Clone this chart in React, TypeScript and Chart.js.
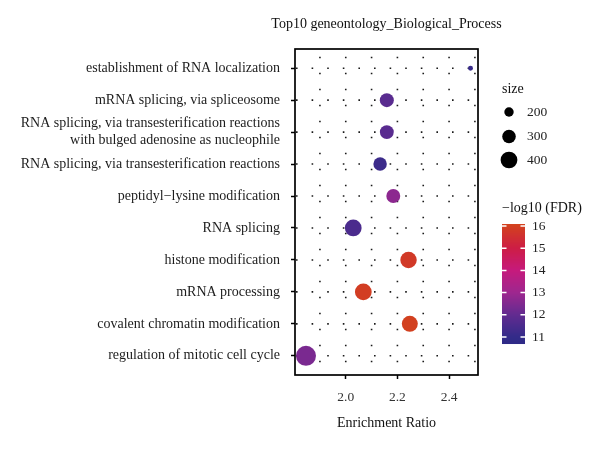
import React, { useEffect, useRef } from "react";
import { Chart, registerables } from "chart.js";

Chart.register(...registerables);

const categories = [
  "establishment of RNA localization",
  "mRNA splicing, via spliceosome",
  "RNA splicing, via transesterification reactions\nwith bulged adenosine as nucleophile",
  "RNA splicing, via transesterification reactions",
  "peptidyl\u2212lysine modification",
  "RNA splicing",
  "histone modification",
  "mRNA processing",
  "covalent chromatin modification",
  "regulation of mitotic cell cycle",
];
const enrichmentRatio = [2.483, 2.159, 2.159, 2.133, 2.184, 2.029, 2.243, 2.068, 2.248, 1.846];
const geneSize = [134, 312, 310, 296, 310, 400, 390, 400, 375, 525];
const negLog10FDR = [11.1, 11.8, 11.8, 11.2, 12.7, 11.5, 15.8, 15.9, 16.0, 12.4];
const xTicks = [2.0, 2.2, 2.4];
const xGrid = [1.9, 2.0, 2.1, 2.2, 2.3, 2.4, 2.5];
const sizeLegend = [200, 300, 400];
const fdrTicks = [11, 12, 13, 14, 15, 16];

const FONT = "'Liberation Serif', 'DejaVu Serif', serif";

const colorStops: [number, number[]][] = [
  [10.6, [0x2c, 0x2a, 0x86]],
  [11, [0x33, 0x2b, 0x89]],
  [12, [0x62, 0x2b, 0x90]],
  [13, [0x9e, 0x27, 0x8f]],
  [14, [0xc6, 0x1a, 0x7c]],
  [15, [0xcd, 0x1d, 0x45]],
  [16, [0xd2, 0x40, 0x1f]],
  [16.2, [0xd4, 0x46, 0x1d]],
];

function colorFor(v: number): string {
  let a = colorStops[0];
  let b = colorStops[colorStops.length - 1];
  if (v <= a[0]) b = a;
  for (let i = 0; i < colorStops.length - 1; i++) {
    if (v >= colorStops[i][0] && v <= colorStops[i + 1][0]) {
      a = colorStops[i];
      b = colorStops[i + 1];
      break;
    }
  }
  const t = b[0] === a[0] ? 0 : (v - a[0]) / (b[0] - a[0]);
  const c = a[1].map((ch, k) => Math.round(ch + (b[1][k] - ch) * t));
  return `rgb(${c[0]},${c[1]},${c[2]})`;
}

function radiusFor(s: number): number {
  return Math.sqrt(Math.max(1, 22 + (s - 200) * 0.24));
}

const decorPlugin = {
  id: "decor",
  beforeDatasetsDraw(chart: any) {
    const { ctx, chartArea: a, scales } = chart;
    const x = scales.x;
    const y = scales.y;
    ctx.save();
    ctx.beginPath();
    ctx.rect(a.left, a.top, a.right - a.left, a.bottom - a.top);
    ctx.clip();
    ctx.strokeStyle = "#1a1a1a";
    ctx.lineWidth = 1.6;
    ctx.setLineDash([1.6, 14.4]);
    xGrid.forEach((v) => {
      const px = x.getPixelForValue(v);
      ctx.lineDashOffset = -7.7;
      ctx.beginPath();
      ctx.moveTo(px, a.top);
      ctx.lineTo(px, a.bottom);
      ctx.stroke();
    });
    ctx.setLineDash([1.6, 14.0]);
    categories.forEach((_, i) => {
      const py = y.getPixelForValue(i);
      ctx.lineDashOffset = -1;
      ctx.beginPath();
      ctx.moveTo(a.left, py);
      ctx.lineTo(a.right, py);
      ctx.stroke();
    });
    ctx.restore();
  },
  afterDatasetsDraw(chart: any) {
    const { ctx, chartArea: a } = chart;
    ctx.save();
    ctx.strokeStyle = "#000";
    ctx.lineWidth = 1.7;
    ctx.strokeRect(a.left, a.top, a.right - a.left, a.bottom - a.top);
    ctx.restore();
  },
  afterDraw(chart: any) {
    const { ctx, chartArea: a } = chart;
    ctx.save();
    ctx.fillStyle = "#111";
    ctx.font = `14px ${FONT}`;
    ctx.textAlign = "center";
    ctx.textBaseline = "middle";
    ctx.fillText("Top10 geneontology_Biological_Process", (a.left + a.right) / 2, 24);
    ctx.fillText("Enrichment Ratio", (a.left + a.right) / 2, 423);

    // size legend
    ctx.textAlign = "left";
    ctx.fillStyle = "#111";
    ctx.fillText("size", 502, 89);
    ctx.font = `13.5px ${FONT}`;
    const sizeY = [112, 136.5, 160];
    sizeLegend.forEach((s, i) => {
      ctx.beginPath();
      ctx.fillStyle = "#000";
      ctx.arc(509, sizeY[i], radiusFor(s), 0, Math.PI * 2);
      ctx.fill();
      ctx.fillStyle = "#222";
      ctx.fillText(String(s), 527, sizeY[i]);
    });

    // colour bar
    ctx.font = `14px ${FONT}`;
    ctx.fillStyle = "#111";
    ctx.fillText("\u2212log10 (FDR)", 502, 208);
    ctx.font = `13.5px ${FONT}`;
    const yOf = (v: number) => 337 - (v - 11) * 22.2;
    const x0 = 502;
    const x1 = 525;
    const vTop = 16.05;
    const vBot = 10.7;
    const top = yOf(vTop);
    const bot = yOf(vBot);
    for (let py = Math.floor(top); py < bot; py++) {
      const v = 11 + (337 - (py + 0.5)) / 22.2;
      ctx.fillStyle = colorFor(v);
      ctx.fillRect(x0, py, x1 - x0, 1.02);
    }
    ctx.strokeStyle = "#fff";
    ctx.lineWidth = 1.5;
    fdrTicks.forEach((v) => {
      const py = yOf(v);
      ctx.beginPath();
      ctx.moveTo(x0, py);
      ctx.lineTo(x0 + 4.5, py);
      ctx.moveTo(x1 - 4.5, py);
      ctx.lineTo(x1, py);
      ctx.stroke();
      ctx.fillStyle = "#222";
      ctx.fillText(String(v), 532, py);
    });
    ctx.restore();
  },
};

export default function App() {
  const ref = useRef<HTMLCanvasElement | null>(null);
  useEffect(() => {
    if (!ref.current) return;
    const chart = new Chart(ref.current, {
      type: "bubble",
      data: {
        datasets: [
          {
            data: enrichmentRatio.map((v, i) => ({ x: v, y: i, r: radiusFor(geneSize[i]) })),
            backgroundColor: negLog10FDR.map((v) => colorFor(v)),
            borderColor: negLog10FDR.map((v) => colorFor(v)),
            borderWidth: 0,
          },
        ],
      },
      options: {
        animation: false,
        responsive: true,
        maintainAspectRatio: false,
        layout: { padding: { left: 0, top: 49, right: 122, bottom: 0 } },
        plugins: { legend: { display: false }, tooltip: { enabled: false }, title: { display: false } },
        scales: {
          x: {
            type: "linear",
            min: 1.8035,
            max: 2.512,
            afterBuildTicks: (scale: any) => {
              scale.ticks = xTicks.map((v) => ({ value: v }));
            },
            afterFit: (scale: any) => {
              scale.height = 74;
            },
            grid: { display: true, drawOnChartArea: false, drawTicks: true, tickLength: 4, tickWidth: 1.5, tickColor: "#000" },
            border: { display: false },
            ticks: {
              autoSkip: false,
              padding: 10,
              color: "#333",
              font: { family: FONT, size: 13.5 },
              callback: (v: any) => Number(v).toFixed(1),
            },
          },
          y: {
            type: "linear",
            min: -0.6,
            max: 9.6,
            reverse: true,
            afterBuildTicks: (scale: any) => {
              scale.ticks = categories.map((_, i) => ({ value: i }));
            },
            afterFit: (scale: any) => {
              scale.width = 295;
            },
            grid: { display: true, drawOnChartArea: false, drawTicks: true, tickLength: 4, tickWidth: 1.5, tickColor: "#000" },
            border: { display: false },
            ticks: {
              autoSkip: false,
              padding: 11,
              color: "#1c1c1c",
              font: { family: FONT, size: 14, lineHeight: 1.2 },
              callback: (v: any) => {
                const c = categories[Math.round(Number(v))];
                return c ? c.split("\n") : "";
              },
            },
          },
        },
      },
      plugins: [decorPlugin],
    });
    return () => chart.destroy();
  }, []);
  return (
    <div style={{ position: "fixed", left: 0, top: 0, width: 600, height: 449, background: "#fff" }}>
      <canvas ref={ref} />
    </div>
  );
}
